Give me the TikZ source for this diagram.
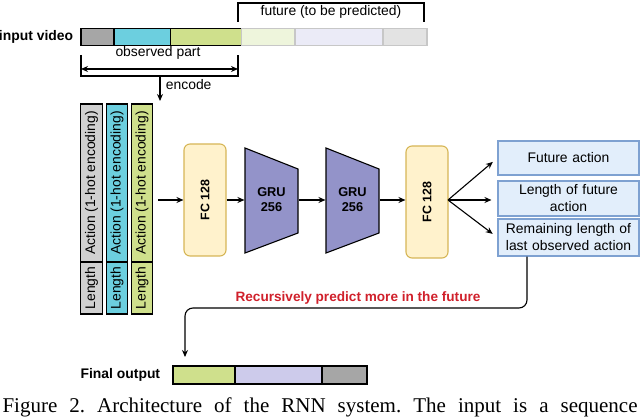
\documentclass[tikz,border=0pt]{standalone}
\usepackage{fontspec}
\setmainfont{Liberation Sans}
\newfontfamily\capfont{Liberation Serif}
\usetikzlibrary{arrows.meta}

\definecolor{vidGray}{HTML}{A6A6A6}
\definecolor{vidCyan}{HTML}{6CCFDF}
\definecolor{vidGreen}{HTML}{CFE08C}
\definecolor{futGreen}{HTML}{EEF5DC}
\definecolor{futBlue}{HTML}{EBEBF7}
\definecolor{futGray}{HTML}{E3E3E3}
\definecolor{colGray}{HTML}{D0D0D0}
\definecolor{fcFill}{HTML}{FFF2CC}
\definecolor{fcLine}{HTML}{D6B656}
\definecolor{gruFill}{HTML}{9393C9}
\definecolor{outFill}{HTML}{E2EEFB}
\definecolor{outLine}{HTML}{7EA1D1}
\definecolor{finBlue}{HTML}{CDCBEB}
\definecolor{recRed}{HTML}{D0202B}

\begin{document}
\begin{tikzpicture}[x=1pt,y=-1pt,line width=1.1pt,
    >={Stealth[length=7pt,width=6pt]},
    every node/.style={font=\fontsize{13.9}{17}\selectfont},
    seg/.style={draw,inner sep=0pt,minimum height=17pt},
    futseg/.style={seg,draw=black!22},
    cell/.style={draw,inner sep=0pt,rotate=90,minimum height=21.5pt},
    fcbox/.style={draw=fcLine,fill=fcFill,rounded corners=6pt,rotate=90,
        minimum width=112pt,minimum height=42pt,inner sep=0pt,
        font=\fontsize{12.4}{14}\selectfont\bfseries},
    outbox/.style={draw=outLine,fill=outFill,text width=136pt,align=center,
        minimum width=141pt,inner sep=0pt}]
    \useasboundingbox (0,0) rectangle (640,419);
    \clip (0,0) rectangle (640,419);

    % input video bar
    \node[anchor=east,font=\fontsize{13.9}{17}\selectfont\bfseries] (inlabel) at (77,37) {input video};
    \node[futseg,fill=futGreen,minimum width=54pt] (v4) at (268,37) {};
    \node[futseg,fill=futBlue,minimum width=88pt] (v5) at (339,37) {};
    \node[futseg,fill=futGray,minimum width=44pt] (v6) at (405,37) {};
    \node[seg,fill=vidGray,minimum width=33pt] (v1) at (97.5,37) {};
    \node[seg,fill=vidCyan,minimum width=57pt] (v2) at (142.5,37) {};
    \node[seg,fill=vidGreen,minimum width=70pt,draw=none] (v3) at (206,37) {};
    \draw (171,28.5) -- (241,28.5) (171,45.5) -- (241,45.5);

    % brackets
    \draw (238,22) -- (238,3) -- (424,3) -- (424,22);
    \node (future) at (331,12) {future (to be predicted)};
    \node (observed) at (158,53) {observed part};
    \coordinate (obsL) at (81,69);
    \coordinate (obsR) at (238,69);
    \draw (81,55) -- (81,76) -- (238,76) -- (238,55);
    \draw[<->] (obsL) -- (obsR);
    \coordinate (enc) at (160,76);
    \coordinate (encEnd) at (160,101);
    \path[->] (enc) edge (encEnd);
    \node[anchor=west] (encode) at (162,85) {encode};

    % input columns
    \node[cell,fill=colGray,minimum width=158pt] (a1) at (91.5,183) {Action (1-hot encoding)};
    \node[cell,fill=colGray,minimum width=52pt] (l1) at (91.5,288) {Length};
    \node[cell,fill=vidCyan,minimum width=158pt] (a2) at (117,183) {Action (1-hot encoding)};
    \node[cell,fill=vidCyan,minimum width=52pt] (l2) at (117,288) {Length};
    \node[cell,fill=vidGreen,minimum width=158pt] (a3) at (142,183) {Action (1-hot encoding)};
    \node[cell,fill=vidGreen,minimum width=52pt] (l3) at (142,288) {Length};
    \coordinate (cols) at (158,200);

    % network
    \node[fcbox] (fc1) at (205,200) {FC 128};
    \draw[fill=gruFill] (245,148) -- (298,169) -- (298,233) -- (245,253) -- cycle;
    \node[inner sep=0pt,minimum width=53pt,minimum height=20pt,align=center,
        font=\fontsize{12.8}{15}\selectfont\bfseries] (gru1) at (271.5,200) {GRU\\256};
    \draw[fill=gruFill] (326,148) -- (379,169) -- (379,233) -- (326,253) -- cycle;
    \node[inner sep=0pt,minimum width=53pt,minimum height=20pt,align=center,
        font=\fontsize{12.8}{15}\selectfont\bfseries] (gru2) at (352.5,200) {GRU\\256};
    \node[fcbox] (fc2) at (427,202) {FC 128};

    \path[->] (cols) edge (fc1);
    \path[->] (fc1) edge (gru1);
    \path[->] (gru1) edge (gru2);
    \path[->] (gru2) edge (fc2.north |- gru2);

    % outputs
    \node[outbox,minimum height=34pt] (out1) at (568.5,158) {Future action};
    \node[outbox,minimum height=35pt] (out2) at (568.5,198.5) {Length of future\\action};
    \node[outbox,minimum height=37pt] (out3) at (568.5,237.5) {Remaining length of\\last observed action};
    \coordinate (fan) at (448,200);
    \path[->,shorten >=6pt] (fan) edge (out1.west);
    \path[->,shorten >=6pt] (fan) edge (out2.west |- fan);
    \path[->,shorten >=6pt] (fan) edge (out3.west);

    % recursion
    \node[text=recRed,font=\fontsize{13.6}{17}\selectfont\bfseries] (recur) at (358,298) {Recursively predict more in the future};
    \coordinate (turn) at (185,308);
    \coordinate (fb) at (185,357);
    \draw[->,rounded corners=8pt] ([xshift=-41.5pt]out3.south) |- (turn) -- (fb);

    % final output bar
    \node[anchor=east,font=\fontsize{13.9}{17}\selectfont\bfseries] (finlabel) at (164,375) {Final output};
    \node[seg,fill=vidGreen,minimum width=62pt,minimum height=18pt] (f1) at (204,375) {};
    \node[seg,fill=finBlue,minimum width=87pt,minimum height=18pt] (f2) at (278.5,375) {};
    \node[seg,fill=vidGray,minimum width=45pt,minimum height=18pt] (f3) at (344.5,375) {};

    % caption
    \node[anchor=base west,inner sep=0pt,font=\capfont\fontsize{21}{23}\selectfont] (caption) at (2,413)
        {\frenchspacing\makebox[635pt][s]{Figure 2. Architecture of the RNN system. The input is a sequence}};
\end{tikzpicture}
\end{document}
